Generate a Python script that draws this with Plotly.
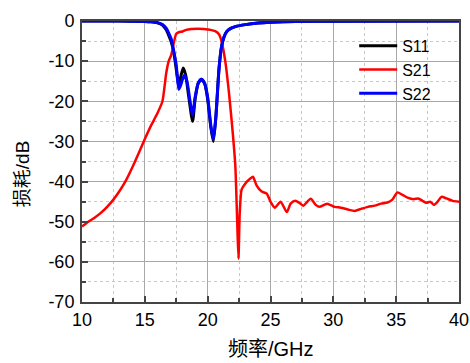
import plotly.graph_objects as go

# ---- data ----
s21_f = [10, 10.5, 11, 11.5, 12, 12.5, 13, 13.5, 14, 14.5, 15, 15.5, 16, 16.4, 16.7, 16.9, 17.1, 17.3,
         17.5, 17.7, 18.0, 18.3, 18.7, 19.2, 19.7, 20.2, 20.6, 20.9, 21.1, 21.4, 21.7, 22.0, 22.2, 22.35,
         22.45, 22.55, 22.7, 23.0, 23.3, 23.6, 23.9, 24.3, 24.7, 25.0, 25.35, 25.8, 26.3, 26.6, 26.95,
         27.3, 27.6, 28.2, 28.6, 28.9, 29.5, 30.1, 30.6, 31.2, 31.7, 32.2, 32.75, 33.3, 33.8, 34.3, 34.7,
         35.1, 35.5, 35.9, 36.4, 36.75, 37.1, 37.4, 37.7, 38.0, 38.3, 38.6, 39.0, 39.5, 40]
s21_db = [-51.2, -50, -49, -47.8, -46.3, -44.5, -42.3, -39.7, -36.5, -33, -29.4, -26, -23, -20, -13, -10,
          -8.5, -5.5, -3.2, -2.8, -2.6, -2.2, -2.0, -1.9, -2.0, -2.2, -2.5, -3.3, -5, -10, -18, -28, -36,
          -50, -59.2, -48, -42, -40.5, -39.5, -38.8, -41, -42.5, -43, -45, -46.5, -45, -47.6, -45.5, -44.8,
          -45.3, -46, -44.3, -45.8, -46.3, -45.5, -46.3, -46.5, -47, -47.3, -46.8, -46.3, -46, -45.5,
          -45.2, -44.5, -42.7, -43.3, -44, -44.4, -44.2, -44.8, -45.3, -45, -45.8, -45, -43.8, -44.2,
          -44.8, -45]

s11_f = [10, 12, 14, 15, 15.5, 16, 16.4, 16.7, 16.9, 17.1, 17.3, 17.5, 17.7, 17.85, 18.05, 18.25, 18.5,
         18.8, 19.0, 19.25, 19.5, 19.75, 20.0, 20.25, 20.45, 20.65, 20.9, 21.1, 21.3, 21.5, 21.8, 22.2,
         23, 24, 25, 27, 30, 40]
s11_db = [0, 0, -0.05, -0.1, -0.2, -0.45, -1.0, -2.2, -3.6, -5.2, -7.8, -12, -16, -14, -11.7, -13.5, -19,
          -25, -19.5, -15.5, -14.5, -15.5, -19.5, -26.5, -30, -24, -12, -6.5, -4, -2.7, -1.9, -1.4,
          -0.9, -0.5, -0.3, -0.1, -0.05, 0]

s22_f = [10, 12, 14, 15, 15.5, 16, 16.4, 16.7, 16.9, 17.1, 17.3, 17.5, 17.7, 17.85, 18.0, 18.15, 18.35,
         18.6, 18.8, 19.0, 19.25, 19.5, 19.75, 20.0, 20.25, 20.45, 20.65, 20.9, 21.1, 21.3, 21.5, 21.8,
         22.2, 23, 24, 25, 27, 30, 40]
s22_db = [0, 0, -0.05, -0.1, -0.2, -0.4, -0.9, -1.8, -3, -4.5, -7.5, -11, -17, -16, -14.5, -13.5, -15,
          -20, -23.5, -19, -15.5, -14.5, -15.5, -19, -26, -29.5, -24, -12, -6.5, -4, -2.7, -1.9, -1.4,
          -0.9, -0.5, -0.3, -0.1, -0.05, 0]

x_ticks = [10, 15, 20, 25, 30, 35, 40]
y_ticks = [0, -10, -20, -30, -40, -50, -60, -70]

FONT = "Arial, Liberation Sans, Noto Sans CJK SC, sans-serif"

fig = go.Figure()
fig.add_trace(go.Scatter(x=s11_f, y=s11_db, name="S11", mode="lines",
                         line=dict(color="black", width=3, shape="spline", smoothing=0.6)))
fig.add_trace(go.Scatter(x=s21_f, y=s21_db, name="S21", mode="lines",
                         line=dict(color="#ff0000", width=2.5, shape="spline", smoothing=0.6)))
fig.add_trace(go.Scatter(x=s22_f, y=s22_db, name="S22", mode="lines",
                         line=dict(color="#0000ff", width=3, shape="spline", smoothing=0.6)))

axis_common = dict(
    showline=True, linecolor="#444444", linewidth=2, mirror=True,
    showgrid=True, gridcolor="#a8a8a8", gridwidth=1,
    ticks="inside", ticklen=6, tickcolor="#444444", tickwidth=1.5,
    tickfont=dict(family=FONT, size=18, color="black"),
    zeroline=False, automargin=False,
)

fig.update_xaxes(range=[10, 40], tickvals=x_ticks, ticktext=[str(v) for v in x_ticks],
                 minor=dict(dtick=2.5, tick0=10, showgrid=True, griddash="dot", gridcolor="#c8c8c8",
                            ticks="inside", ticklen=4, tickcolor="#444444"),
                 **axis_common)
fig.update_yaxes(range=[-70, 0], tickvals=y_ticks, ticktext=[str(v) for v in y_ticks],
                 minor=dict(dtick=5, tick0=0, showgrid=True, griddash="dot", gridcolor="#c8c8c8",
                            ticks="inside", ticklen=4, tickcolor="#444444"),
                 ticklabelstandoff=2,
                 **axis_common)

fig.add_annotation(text="损耗/dB", xref="paper", yref="paper", x=-0.159, y=0.455, textangle=-90,
                   showarrow=False, font=dict(family=FONT, size=19, color="black"),
                   xanchor="center", yanchor="middle")
fig.add_annotation(text="频率/GHz", xref="paper", yref="paper", x=0.5, y=-0.167,
                   showarrow=False, font=dict(family=FONT, size=20, color="black"),
                   xanchor="center", yanchor="middle")

fig.update_layout(
    width=470, height=363,
    margin=dict(l=82, r=11, t=21, b=61),
    plot_bgcolor="white", paper_bgcolor="white",
    showlegend=True,
    legend=dict(x=0.722, y=0.972, xanchor="left", yanchor="top", bgcolor="rgba(0,0,0,0)",
                font=dict(family=FONT, size=16, color="black"), itemwidth=38, tracegroupgap=0),
)

# remove the default 8px page margin so the figure fills the 470x363 window exactly
fig.write_html("out.html", config={"displayModeBar": False},
               post_script="document.body.style.margin='0';document.body.style.overflow='hidden';")
